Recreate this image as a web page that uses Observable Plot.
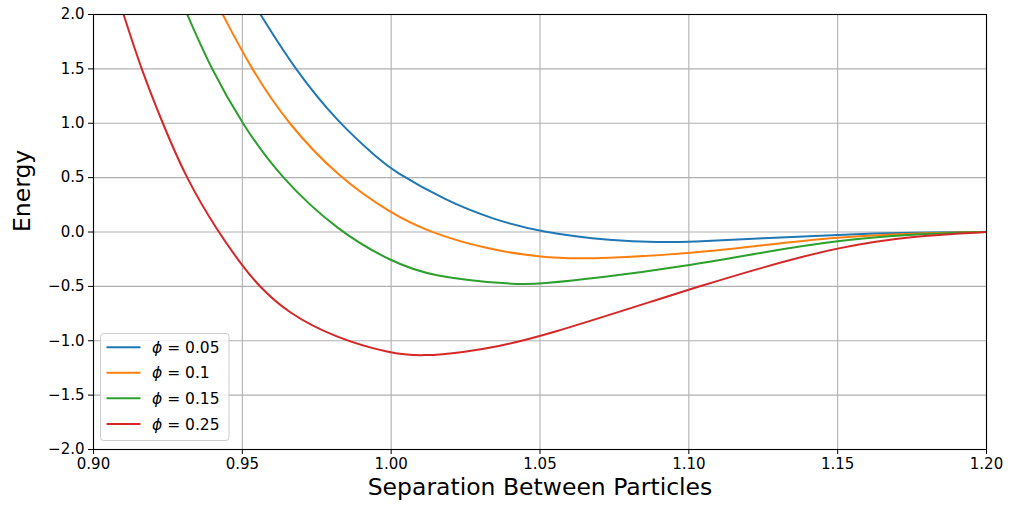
<!DOCTYPE html>
<html>
<head>
<meta charset="utf-8">
<script src="https://cdn.jsdelivr.net/npm/d3@7"></script>
<script src="https://cdn.jsdelivr.net/npm/@observablehq/plot@0.6"></script>
<style>
  html, body { margin: 0; padding: 0; background: #fff; }
  #chart { width: 1011px; height: 510px; }
</style>
</head>
<body>
<div id="chart"></div>
<script>
const seriesNames = ["0.05", "0.1", "0.15", "0.25"];
const seriesColors = ["#1f77b4", "#ff7f0e", "#2ca02c", "#d62728"];

const blueX = [0.9561, 0.9675, 0.9823, 0.9964, 1.0000, 1.0188, 1.0345, 1.0500, 1.0748, 1.0900, 1.1000, 1.1250, 1.1500, 1.1750, 1.2000];
const blueY = [2.00, 1.50, 1.00, 0.658, 0.575, 0.28, 0.115, 0.00, -0.083, -0.094, -0.092, -0.058, -0.024, -0.005, 0.00];

const orangeX = [0.9434, 0.9530, 0.9651, 0.9824, 1.0000, 1.0126, 1.0323, 1.0500, 1.0647, 1.1000, 1.1250, 1.1500, 1.1750, 1.2000];
const orangeY = [2.00, 1.50, 1.00, 0.50, 0.17, 0.00, -0.16, -0.232, -0.253, -0.20, -0.12, -0.046, -0.012, 0.00];

const greenX = [0.9315, 0.9395, 0.9500, 0.9628, 0.9825, 1.0000, 1.0132, 1.0423, 1.0500, 1.0692, 1.1000, 1.1250, 1.1500, 1.1750, 1.2000];
const greenY = [2.00, 1.50, 0.99, 0.50, 0.00, -0.27, -0.41, -0.486, -0.477, -0.425, -0.31, -0.186, -0.077, -0.02, 0.00];

const redX = [0.9101, 0.9160, 0.9232, 0.9310, 0.9418, 0.9500, 0.9556, 0.9651, 0.9807, 1.0000, 1.0109, 1.0245, 1.0356, 1.0500, 1.0938, 1.1000, 1.1252, 1.1500, 1.1745, 1.2000];
const redY = [2.00, 1.50, 1.00, 0.50, 0.00, -0.31, -0.50, -0.74, -0.967, -1.12, -1.142, -1.105, -1.053, -0.967, -0.584, -0.53, -0.32, -0.14, -0.037, 0.00];

const xTicks = [0.90, 0.95, 1.00, 1.05, 1.10, 1.15, 1.20];
const yTicks = [-2.0, -1.5, -1.0, -0.5, 0.0, 0.5, 1.0, 1.5, 2.0];

const allX = [blueX, orangeX, greenX, redX];
const allY = [blueY, orangeY, greenY, redY];
const data = [];
seriesNames.forEach((name, i) => {
  allX[i].forEach((x, j) => data.push({series: name, x, y: allY[i][j]}));
});

const font = "DejaVu Sans, sans-serif";

const chart = Plot.plot({
  width: 1011,
  height: 510,
  marginLeft: 93,
  marginRight: 25,
  marginTop: 14,
  marginBottom: 61,
  style: {fontFamily: font, fontSize: "15px", color: "#000", background: "#fff"},
  x: {domain: [0.9, 1.2], label: null},
  y: {domain: [-2, 2], label: null},
  color: {domain: seriesNames, range: seriesColors},
  marks: [
    Plot.gridX(xTicks, {stroke: "#b0b0b0", strokeOpacity: 1, strokeWidth: 1.1}),
    Plot.gridY(yTicks, {stroke: "#b0b0b0", strokeOpacity: 1, strokeWidth: 1.1}),
    Plot.line(data, {x: "x", y: "y", z: "series", stroke: "series", strokeWidth: 2, curve: "basis", clip: true}),
    Plot.frame({stroke: "#000", strokeWidth: 1.1}),
    Plot.axisX({ticks: xTicks, tickFormat: d3.format(".2f"), tickSize: 5, tickPadding: 4, label: null, stroke: "#000", strokeWidth: 1}),
    Plot.axisY({ticks: yTicks, tickFormat: d3.format(".1f"), tickSize: 5, tickPadding: 4, label: null, stroke: "#000", strokeWidth: 1}),
    Plot.text(["Separation Between Particles"], {frameAnchor: "bottom", dy: 45, fontSize: 23.5, fill: "#000"}),
    Plot.text(["Energy"], {frameAnchor: "left", dx: -71, rotate: -90, fontSize: 23.5, fill: "#000"})
  ]
});

document.getElementById("chart").appendChild(chart);

// Legend (matplotlib-style box, lower left inside axes)
const svg = d3.select(chart);
const lg = svg.append("g")
  .attr("font-family", font)
  .attr("font-size", "15.5px")
  .attr("text-anchor", "start");
lg.append("rect")
  .attr("x", 100.5).attr("y", 333.5).attr("width", 128.5).attr("height", 107)
  .attr("rx", 3).attr("ry", 3)
  .attr("fill", "#fff").attr("fill-opacity", 0.8)
  .attr("stroke", "#cccccc").attr("stroke-width", 1);
const rowY = [347.3, 372.7, 398.3, 424];
seriesNames.forEach((name, i) => {
  lg.append("line")
    .attr("x1", 106.5).attr("x2", 140.5)
    .attr("y1", rowY[i]).attr("y2", rowY[i])
    .attr("stroke", seriesColors[i]).attr("stroke-width", 2);
  const t = lg.append("text")
    .attr("x", 152).attr("y", rowY[i]).attr("dy", "0.36em")
    .attr("fill", "#000").attr("text-anchor", "start");
  t.append("tspan").attr("font-style", "italic").text("ϕ");
  t.append("tspan").text(" = " + name);
});
</script>
</body>
</html>
